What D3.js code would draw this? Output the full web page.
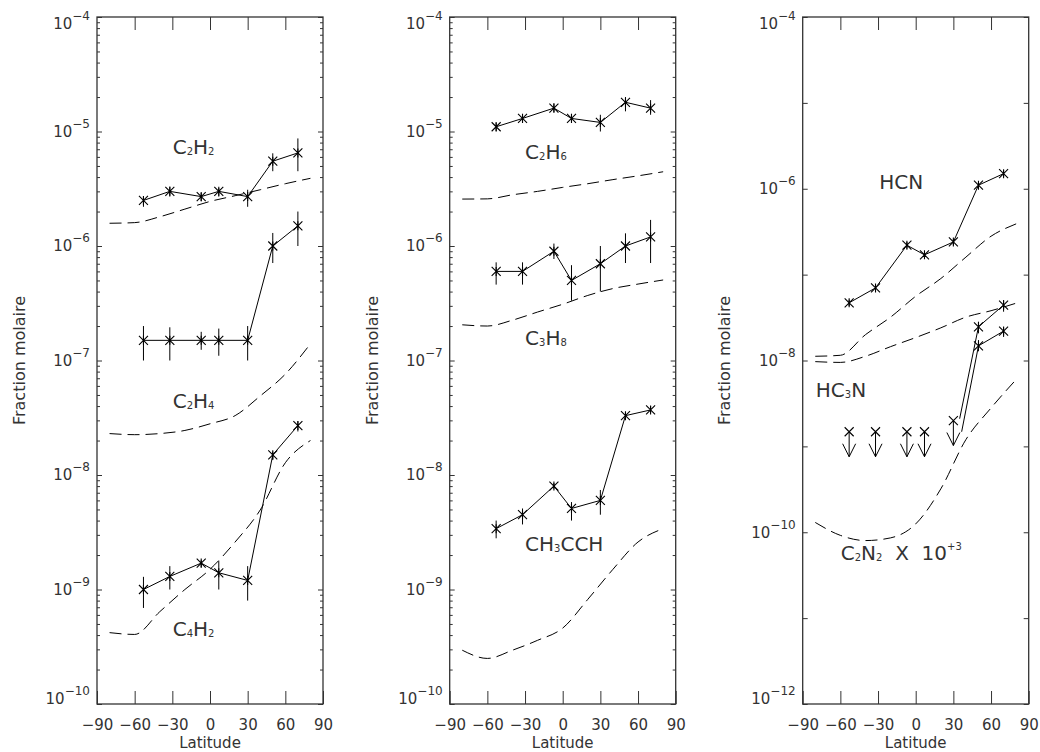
<!DOCTYPE html>
<html><head><meta charset="utf-8">
<script src="https://cdn.jsdelivr.net/npm/d3@7"></script>
<style>
body{margin:0;background:#fff;}
svg{display:block;}
text{font-family:"DejaVu Sans",sans-serif;fill:#333;}
</style></head><body>
<svg id="c" width="1040" height="752"></svg>
<script>
// ---------- data ----------
const lat = [-53, -32, -7, 7, 30, 50, 70];
const modelLat = [-80, -60, -40, -20, 0, 20, 40, 60, 80];
const xTickLabels = [-90, -60, -30, 0, 30, 60, 90];

// Panel 1
const c2h2   = [2.5e-6, 3.0e-6, 2.7e-6, 3.0e-6, 2.7e-6, 5.5e-6, 6.5e-6];
const c2h2Lo = [2.2e-6, 2.7e-6, 2.45e-6, 2.7e-6, 2.2e-6, 4.5e-6, 4.5e-6];
const c2h2Hi = [2.7e-6, 3.3e-6, 2.9e-6, 3.2e-6, 3.1e-6, 6.45e-6, 8.7e-6];
const c2h2Model = [1.58e-6, 1.6e-6, 1.8e-6, 2.1e-6, 2.45e-6, 2.75e-6, 3.1e-6, 3.5e-6, 3.9e-6];

const c2h4   = [1.5e-7, 1.5e-7, 1.5e-7, 1.5e-7, 1.5e-7, 1.0e-6, 1.5e-6];
const c2h4Lo = [1.0e-7, 1.0e-7, 1.24e-7, 1.1e-7, 1.0e-7, 7.1e-7, 1.0e-6];
const c2h4Hi = [2.0e-7, 1.95e-7, 1.78e-7, 1.9e-7, 2.0e-7, 1.3e-6, 2.0e-6];
const c2h4Model = [2.3e-8, 2.25e-8, 2.3e-8, 2.45e-8, 2.8e-8, 3.3e-8, 4.9e-8, 7.6e-8, 1.4e-7];

const c4h2   = [1.0e-9, 1.3e-9, 1.7e-9, 1.4e-9, 1.2e-9, 1.5e-8, 2.7e-8];
const c4h2Lo = [6.9e-10, 1.0e-9, 1.55e-9, 1.0e-9, 8.0e-10, 1.35e-8, 2.4e-8];
const c4h2Hi = [1.29e-9, 1.6e-9, 1.8e-9, 1.77e-9, 1.6e-9, 1.6e-8, 2.95e-8];
const c4h2Model = [4.2e-10, 4.05e-10, 6.4e-10, 1.0e-9, 1.5e-9, 2.6e-9, 4.95e-9, 1.28e-8, 2.0e-8];

// Panel 2
const c2h6   = [1.1e-5, 1.3e-5, 1.6e-5, 1.3e-5, 1.2e-5, 1.8e-5, 1.6e-5];
const c2h6Lo = [1.0e-5, 1.19e-5, 1.47e-5, 1.19e-5, 1.0e-5, 1.5e-5, 1.4e-5];
const c2h6Hi = [1.2e-5, 1.43e-5, 1.77e-5, 1.43e-5, 1.4e-5, 2.0e-5, 1.88e-5];
const c2h6Model = [2.57e-6, 2.58e-6, 2.8e-6, 3.0e-6, 3.25e-6, 3.5e-6, 3.8e-6, 4.1e-6, 4.45e-6];

const c3h8   = [6.0e-7, 6.0e-7, 9.0e-7, 5.0e-7, 7.0e-7, 1.0e-6, 1.2e-6];
const c3h8Lo = [4.6e-7, 4.6e-7, 7.7e-7, 3.33e-7, 4.0e-7, 7.1e-7, 7.1e-7];
const c3h8Hi = [7.2e-7, 7.2e-7, 1.05e-6, 6.8e-7, 1.0e-6, 1.29e-6, 1.69e-6];
const c3h8Model = [2.05e-7, 2.0e-7, 2.25e-7, 2.65e-7, 3.1e-7, 3.7e-7, 4.25e-7, 4.65e-7, 5.05e-7];

const ch3cch   = [3.4e-9, 4.5e-9, 8.0e-9, 5.1e-9, 6.0e-9, 3.3e-8, 3.7e-8];
const ch3cchLo = [2.8e-9, 3.7e-9, 7.6e-9, 4.0e-9, 4.5e-9, 3.1e-8, 3.5e-8];
const ch3cchHi = [4.0e-9, 5.1e-9, 8.5e-9, 5.8e-9, 7.4e-9, 3.5e-8, 4.0e-8];
const ch3cchModel = [2.95e-10, 2.5e-10, 2.95e-10, 3.6e-10, 4.6e-10, 8.2e-10, 1.5e-9, 2.6e-9, 3.4e-9];

// Panel 3
const hcn   = [4.7e-8, 7.0e-8, 2.2e-7, 1.7e-7, 2.4e-7, 1.1e-6, 1.5e-6];
const hcnLo = [4.3e-8, 6.4e-8, 2.0e-7, 1.55e-7, 2.2e-7, 1.0e-6, 1.38e-6];
const hcnHi = [5.1e-8, 7.6e-8, 2.4e-7, 1.85e-7, 2.6e-7, 1.2e-6, 1.65e-6];
const hcnModel = [1.12e-8, 1.15e-8, 2.0e-8, 3.2e-8, 5.6e-8, 9.0e-8, 1.6e-7, 2.8e-7, 3.9e-7];
const hc3nModel = [9.7e-9, 9.5e-9, 1.12e-8, 1.45e-8, 1.85e-8, 2.4e-8, 3.2e-8, 3.8e-8, 4.65e-8];
const c2n2Model = [1.3e-10, 9.2e-11, 8.0e-11, 8.6e-11, 1.25e-10, 3.2e-10, 1.2e-9, 2.8e-9, 6.0e-9];

const hc3nUlLat = [-53, -32, -7, 7, 30];
const hc3nUl    = [1.48e-9, 1.48e-9, 1.48e-9, 1.48e-9, 2.0e-9];
const hc3nNorthLat = [35, 50, 70];
const hc3nNorth    = [2.1e-9, 2.47e-8, 4.42e-8];
const hc3nNorthLo  = [null, 2.07e-8, 3.7e-8];
const hc3nNorthHi  = [null, 2.83e-8, 5.06e-8];
const c2n2NorthLat = [36.6, 50, 70];
const c2n2North    = [1.48e-9, 1.48e-8, 2.2e-8];
const c2n2NorthLo  = [null, 1.28e-8, 1.88e-8];
const c2n2NorthHi  = [null, 1.73e-8, 2.44e-8];

// ---------- layout ----------
const svg = d3.select("#c");
const PW = 226, TOP = 17, BOT = 704;
const ASTER = "M-4.5,-4.5L4.5,4.5M-4.5,4.5L4.5,-4.5M0,-4.5L0,4.5";
const CROSS = "M-4.5,-4.5L4.5,4.5M-4.5,4.5L4.5,-4.5";

const panels = [
  {x0: 97, lo: -10, hi: -4, minor: true, labelStep: 1, titleX: 25,
   series: [[c2h2, c2h2Lo, c2h2Hi], [c2h4, c2h4Lo, c2h4Hi], [c4h2, c4h2Lo, c4h2Hi]],
   models: [c2h2Model, c2h4Model, c4h2Model],
   labels: [
     {lat: -29.7, v: 6.35e-6, parts: [["C",0],["2",1],["H",0],["2",1]]},
     {lat: -29.7, v: 3.85e-8, parts: [["C",0],["2",1],["H",0],["4",1]]},
     {lat: -29.7, v: 3.93e-10, parts: [["C",0],["4",1],["H",0],["2",1]]}
   ]},
  {x0: 449.7, lo: -10, hi: -4, minor: true, labelStep: 1, titleX: 378.3,
   series: [[c2h6, c2h6Lo, c2h6Hi], [c3h8, c3h8Lo, c3h8Hi], [ch3cch, ch3cchLo, ch3cchHi]],
   models: [c2h6Model, c3h8Model, ch3cchModel],
   labels: [
     {lat: -30, v: 5.75e-6, parts: [["C",0],["2",1],["H",0],["6",1]]},
     {lat: -30, v: 1.36e-7, parts: [["C",0],["3",1],["H",0],["8",1]]},
     {lat: -30, v: 2.17e-9, parts: [["CH",0],["3",1],["CCH",0]]}
   ]},
  {x0: 802.7, lo: -12, hi: -4, minor: false, labelStep: 2, titleX: 730,
   series: [[hcn, hcnLo, hcnHi]],
   models: [hcnModel, hc3nModel, c2n2Model],
   labels: [
     {lat: -29, v: 9.93e-7, parts: [["HCN",0]]},
     {lat: -79.6, v: 3.79e-9, parts: [["HC",0],["3",1],["N",0]]},
     {lat: -59.7, v: 4.75e-11, parts: [["C",0],["2",1],["N",0],["2",1],["  X  10",0],["+3",2]]}
   ]}
];

const fmtX = d => d < 0 ? "\u2212" + (-d) : String(d);

panels.forEach((p, pi) => {
  const x = d3.scaleLinear().domain([-90, 90]).range([p.x0, p.x0 + PW]);
  const y = d3.scaleLog().domain([Math.pow(10, p.lo), Math.pow(10, p.hi)]).range([BOT, TOP]);
  const g = svg.append("g");

  const decades = d3.range(p.lo, p.hi + 1).map(e => Math.pow(10, e));
  const minors = [];
  if (p.minor) {
    for (let e = p.lo; e < p.hi; e++) for (let m = 2; m <= 9; m++) minors.push(m * Math.pow(10, e));
  }
  [d3.axisLeft(y).tickValues(decades).tickSize(-5), d3.axisLeft(y).tickValues(minors).tickSize(-3)].forEach(a => {
    g.append("g").attr("transform", `translate(${p.x0},0)`).style("color", "#333")
      .call(a.tickFormat("").tickSizeOuter(0)).call(s => s.select(".domain").remove());
  });
  [d3.axisRight(y).tickValues(decades).tickSize(-5), d3.axisRight(y).tickValues(minors).tickSize(-3)].forEach(a => {
    g.append("g").attr("transform", `translate(${p.x0 + PW},0)`).style("color", "#333")
      .call(a.tickFormat("").tickSizeOuter(0)).call(s => s.select(".domain").remove());
  });
  g.append("g").attr("transform", `translate(0,${TOP})`).style("color", "#333")
    .call(d3.axisTop(x).tickValues([-60, -30, 0, 30, 60]).tickSize(-13).tickFormat("").tickSizeOuter(0))
    .call(s => s.select(".domain").remove());
  const bx = g.append("g").attr("transform", `translate(0,${BOT})`).style("color", "#333")
    .call(d3.axisBottom(x).tickValues(xTickLabels).tickSize(-13).tickPadding(15.5).tickFormat(fmtX).tickSizeOuter(0))
    .call(s => s.select(".domain").remove());
  bx.selectAll("text").attr("font-size", 15).attr("font-family", "DejaVu Sans").attr("fill", "#333");

  g.append("rect").attr("x", p.x0).attr("y", TOP).attr("width", PW).attr("height", BOT - TOP)
    .attr("fill", "none").attr("stroke", "#333").attr("stroke-width", 1.3);

  decades.forEach((v, i) => {
    const e = p.lo + i;
    if ((e - p.lo) % p.labelStep !== 0) return;
    const yc = Math.max(24, Math.min(699, y(v)));
    const t = g.append("text").attr("x", p.x0 - 7).attr("y", yc + 5.4)
      .attr("text-anchor", "end").attr("font-size", 15);
    t.append("tspan").text("10");
    t.append("tspan").attr("dy", -9).attr("font-size", 12).text("\u2212" + (-e));
  });

  g.append("text").attr("transform", `translate(${p.titleX},${(TOP + BOT) / 2}) rotate(-90)`)
    .attr("text-anchor", "middle").attr("font-size", 16).text("Fraction molaire");
  g.append("text").attr("x", p.x0 + PW / 2).attr("y", 748).attr("text-anchor", "middle")
    .attr("font-size", 15).text("Latitude");

  const mLine = d3.line().x((d, i) => x(modelLat[i])).y(d => y(d)).curve(d3.curveMonotoneX);
  p.models.forEach(m => {
    g.append("path").attr("d", mLine(m)).attr("fill", "none").attr("stroke", "#000")
      .attr("stroke-width", 1).attr("stroke-dasharray", "12,6");
  });

  const oLine = d3.line().x((d, i) => x(lat[i])).y(d => y(d));
  p.series.forEach(([vals, lo, hi]) => {
    g.append("path").attr("d", oLine(vals)).attr("fill", "none").attr("stroke", "#000").attr("stroke-width", 1);
    vals.forEach((v, i) => {
      g.append("line").attr("x1", x(lat[i])).attr("x2", x(lat[i]))
        .attr("y1", y(lo[i])).attr("y2", y(hi[i])).attr("stroke", "#000").attr("stroke-width", 1);
      g.append("path").attr("d", ASTER).attr("transform", `translate(${x(lat[i])},${y(v)})`)
        .attr("fill", "none").attr("stroke", "#000").attr("stroke-width", 1.1);
    });
  });

  p.labels.forEach(L => {
    const t = g.append("text").attr("x", x(L.lat)).attr("y", y(L.v)).attr("font-size", 20).attr("fill", "#333");
    let shift = 0;
    L.parts.forEach(([s, k]) => {
      const ts = t.append("tspan").text(s).style("white-space", "pre");
      if (k === 1) { ts.attr("font-size", 10).attr("dy", 1 - shift); shift = 1; }
      else if (k === 2) { ts.attr("font-size", 10).attr("dy", -10 - shift); shift = -10; }
      else { ts.attr("dy", -shift); shift = 0; }
    });
  });

  if (pi === 2) {
    hc3nUlLat.forEach((la, i) => {
      const px = x(la), py = y(hc3nUl[i]);
      g.append("path").attr("d", CROSS).attr("transform", `translate(${px},${py})`)
        .attr("fill", "none").attr("stroke", "#000").attr("stroke-width", 1.1);
      g.append("path").attr("d", `M${px},${py}L${px},${py + 25}M${px - 6.5},${py + 12}L${px},${py + 25}L${px + 6.5},${py + 12}`)
        .attr("fill", "none").attr("stroke", "#000").attr("stroke-width", 1);
    });
    [[hc3nNorthLat, hc3nNorth, hc3nNorthLo, hc3nNorthHi], [c2n2NorthLat, c2n2North, c2n2NorthLo, c2n2NorthHi]]
      .forEach(([la, vals, lo, hi]) => {
        const ln = d3.line().x((d, i) => x(la[i])).y(d => y(d));
        g.append("path").attr("d", ln(vals)).attr("fill", "none").attr("stroke", "#000").attr("stroke-width", 1);
        vals.forEach((v, i) => {
          if (lo[i] == null) return;
          g.append("line").attr("x1", x(la[i])).attr("x2", x(la[i]))
            .attr("y1", y(lo[i])).attr("y2", y(hi[i])).attr("stroke", "#000").attr("stroke-width", 1);
          g.append("path").attr("d", ASTER).attr("transform", `translate(${x(la[i])},${y(v)})`)
            .attr("fill", "none").attr("stroke", "#000").attr("stroke-width", 1.1);
        });
      });
  }
});
</script>
</body></html>
